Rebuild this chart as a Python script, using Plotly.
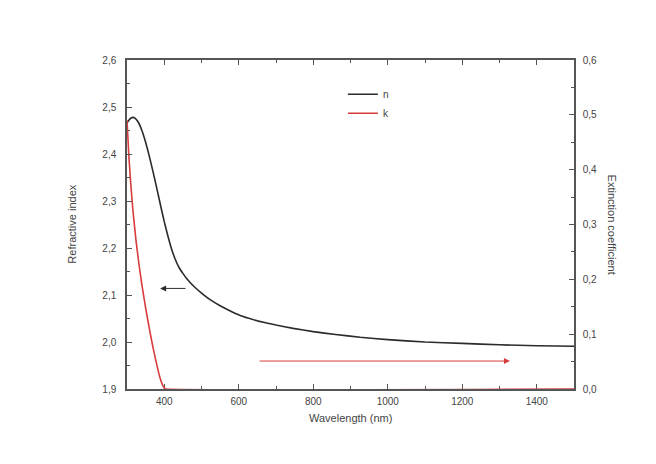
import plotly.graph_objects as go

# Refractive index n(λ)
wavelength_n = [300, 305, 310, 316, 322, 330, 340, 350, 360, 370, 380, 390,
                400, 410, 420, 430, 440, 450, 460, 470, 480, 500, 523, 550,
                580, 612, 650, 700, 746, 800, 860, 926, 1000, 1100, 1200,
                1300, 1400, 1500]
n_values = [2.466, 2.472, 2.476, 2.478, 2.476, 2.468, 2.450, 2.425, 2.395,
            2.362, 2.327, 2.291, 2.256, 2.225, 2.197, 2.175, 2.158, 2.146,
            2.135, 2.126, 2.118, 2.104, 2.090, 2.077, 2.065, 2.054, 2.045,
            2.036, 2.029, 2.022, 2.016, 2.010, 2.005, 2.000, 1.997, 1.994,
            1.992, 1.991]

# Extinction coefficient k(λ)
wavelength_k = [300, 305, 310, 316, 324, 332, 340, 350, 360, 370, 380, 388,
                395, 400, 404, 1500]
k_values = [0.490, 0.425, 0.375, 0.325, 0.272, 0.228, 0.190, 0.148, 0.110,
            0.075, 0.044, 0.022, 0.008, 0.002, 0.0, 0.0]

# Tick positions and labels (decimal comma)
x_ticks = [400, 600, 800, 1000, 1200, 1400]
x_labels = ["400", "600", "800", "1000", "1200", "1400"]
n_ticks = [1.9, 2.0, 2.1, 2.2, 2.3, 2.4, 2.5, 2.6]
n_labels = ["1,9", "2,0", "2,1", "2,2", "2,3", "2,4", "2,5", "2,6"]
k_ticks = [0.0, 0.1, 0.2, 0.3, 0.4, 0.5, 0.6]
k_labels = ["0,0", "0,1", "0,2", "0,3", "0,4", "0,5", "0,6"]

# Arrows pointing each curve to its axis: (tail λ, head λ, value)
n_arrow = (461, 389, 2.114)
k_arrow = (652, 1328, 0.051)

N_COLOR = "#2b2b2b"
K_COLOR = "#d83c3c"
AXIS_COLOR = "#555555"
TEXT_COLOR = "#444444"
FONT = "Liberation Sans, Arial, sans-serif"

fig = go.Figure()
fig.add_trace(go.Scatter(x=wavelength_n, y=n_values, name="n", mode="lines",
                         line=dict(color=N_COLOR, width=1.6, shape="spline",
                                   smoothing=0.3)))
fig.add_trace(go.Scatter(x=wavelength_k, y=k_values, name="k", mode="lines",
                         yaxis="y2",
                         line=dict(color=K_COLOR, width=1.6, shape="spline",
                                   smoothing=0.3)))

axis_common = dict(showline=True, linecolor=AXIS_COLOR, linewidth=1.5,
                   ticks="inside", ticklen=5, tickcolor=AXIS_COLOR,
                   tickwidth=1.2, showgrid=False, zeroline=False,
                   tickfont=dict(family=FONT, size=10, color=TEXT_COLOR))

fig.update_layout(
    width=656, height=464,
    margin=dict(l=127, r=82, t=60, b=75),
    paper_bgcolor="white", plot_bgcolor="white",
    font=dict(family=FONT, color=TEXT_COLOR),
    xaxis=dict(range=[300, 1500], tickvals=x_ticks, ticktext=x_labels,
               mirror="ticks", ticklabelstandoff=2, layer="below traces",
               minor=dict(dtick=100, tick0=300, ticks="inside", ticklen=3,
                          tickcolor=AXIS_COLOR),
               **axis_common),
    yaxis=dict(range=[1.9, 2.6], tickvals=n_ticks, ticktext=n_labels,
               ticklabelstandoff=7,
               minor=dict(dtick=0.05, tick0=1.9, ticks="inside", ticklen=3,
                          tickcolor=AXIS_COLOR),
               **axis_common),
    yaxis2=dict(range=[0.0, 0.6], tickvals=k_ticks, ticktext=k_labels,
                overlaying="y", side="right", ticklabelstandoff=5,
                minor=dict(dtick=0.05, tick0=0, ticks="inside", ticklen=3,
                           tickcolor=AXIS_COLOR),
                **axis_common),
    legend=dict(x=0.483, y=0.94, xanchor="left", yanchor="top",
                bgcolor="rgba(0,0,0,0)", tracegroupgap=0,
                font=dict(family=FONT, size=10, color=TEXT_COLOR)),
    showlegend=True,
)

annotations = [
    dict(text="Wavelength (nm)", xref="paper", yref="paper", x=0.5, y=-0.088,
         xanchor="center", yanchor="middle", showarrow=False,
         font=dict(family=FONT, size=11, color=TEXT_COLOR)),
    dict(text="Refractive index", xref="paper", yref="paper", x=-0.125, y=0.5,
         xanchor="center", yanchor="middle", textangle=-90, showarrow=False,
         font=dict(family=FONT, size=11, color=TEXT_COLOR)),
    dict(text="Extinction coefficient", xref="paper", yref="paper", x=1.087,
         y=0.5, xanchor="center", yanchor="middle", textangle=90,
         showarrow=False, font=dict(family=FONT, size=11, color=TEXT_COLOR)),
    dict(x=n_arrow[1], y=n_arrow[2], ax=n_arrow[0], ay=n_arrow[2],
         xref="x", yref="y", axref="x", ayref="y", text="", showarrow=True,
         arrowhead=2, arrowsize=1.2, arrowwidth=1, arrowcolor=N_COLOR),
    dict(x=k_arrow[1], y=k_arrow[2], ax=k_arrow[0], ay=k_arrow[2],
         xref="x", yref="y2", axref="x", ayref="y2", text="", showarrow=True,
         arrowhead=2, arrowsize=1.2, arrowwidth=1, arrowcolor=K_COLOR),
]
fig.update_layout(annotations=annotations)

fig.write_html("out.html")
